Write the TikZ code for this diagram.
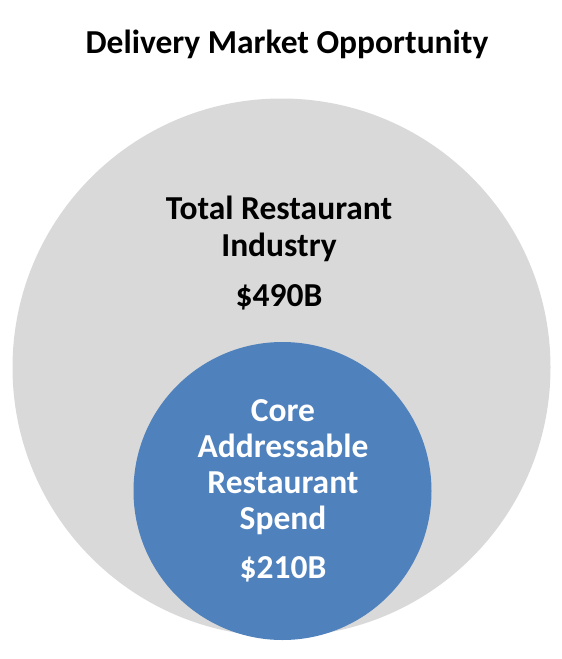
\documentclass[tikz,border=0pt]{standalone}
\usepackage{fontspec}
\setmainfont{Carlito}
\usepackage{xcolor}
\usepackage{tikz}
\usetikzlibrary{positioning}
\definecolor{g}{HTML}{D9D9D9}
\definecolor{b}{HTML}{4F81BD}
\begin{document}
\begin{tikzpicture}[x=1pt,y=-1pt]
\useasboundingbox (0,0) rectangle (562,659);
% two nested circles for the market sizes
\coordinate (G) at (281.5,367.5);
\coordinate (B) at (282.5,491);
\fill[g] (G) circle[radius=269];
\fill[b] (B) circle[radius=149];

\node[anchor=base, font=\bfseries\fontsize{33.5}{37}\selectfont] (T) at (287,53) {Delivery Market Opportunity};
\node[anchor=base, align=center, font=\bfseries\fontsize{33.5}{37}\selectfont] (R) at (279,256) {Total Restaurant\\Industry};
\node[anchor=base, font=\bfseries\fontsize{33.5}{37}\selectfont] (V) at (279,306) {\$490B};
\node[anchor=base, align=center, text=white, font=\bfseries\fontsize{33.5}{36}\selectfont] (C) at (283,529) {Core\\Addressable\\Restaurant\\Spend};
\node[anchor=base, text=white, font=\bfseries\fontsize{33.5}{37}\selectfont] (W) at (283,578) {\$210B};

\end{tikzpicture}
\end{document}
